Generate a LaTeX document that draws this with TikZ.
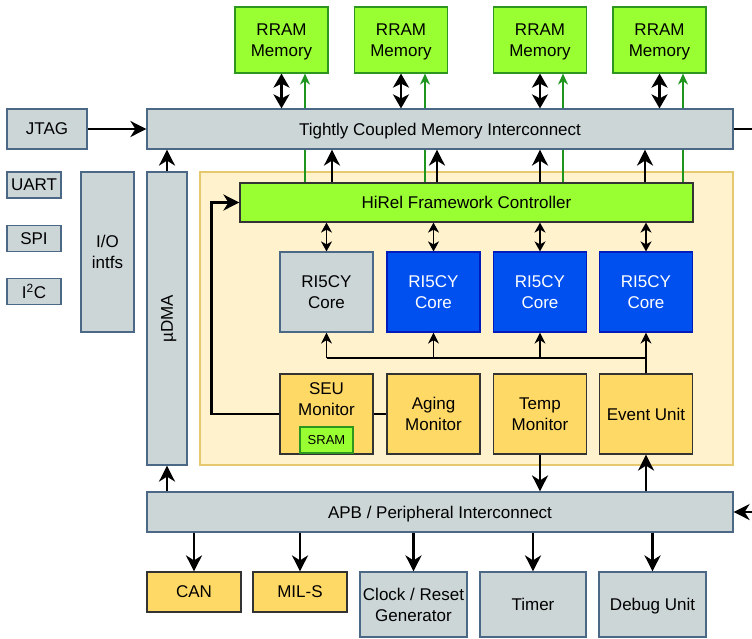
\documentclass[tikz,border=0pt]{standalone}
\usepackage{fontspec}
\setmainfont{Liberation Sans}
\usetikzlibrary{arrows.meta}
\pgfdeclarelayer{back}
\pgfdeclarelayer{mid}
\pgfsetlayers{back,mid,main}

\definecolor{grayfill}{RGB}{205,214,214}
\definecolor{graydraw}{RGB}{75,105,135}
\definecolor{greenfill}{RGB}{153,255,51}
\definecolor{greendraw}{RGB}{45,150,30}
\definecolor{greenarrow}{RGB}{30,150,30}
\definecolor{bluefill}{RGB}{0,80,239}
\definecolor{bluedraw}{RGB}{0,29,188}
\definecolor{orangefill}{RGB}{255,217,102}
\definecolor{darkdraw}{RGB}{51,51,51}
\definecolor{clusterfill}{RGB}{255,242,204}
\definecolor{clusterdraw}{RGB}{230,200,110}

\begin{document}
\begin{tikzpicture}[x=1pt, y=-1pt,
    base/.style={draw, line width=1.2pt, inner sep=2pt, align=center, text depth=0pt, font=\fontsize{17}{21}\selectfont},
    graybox/.style={base, fill=grayfill, draw=graydraw},
    greenbox/.style={base, fill=greenfill, draw=greendraw},
    corebox/.style={base, fill=bluefill, draw=bluedraw, text=white, minimum width=93pt, minimum height=80pt},
    monbox/.style={base, fill=orangefill, draw=darkdraw, minimum width=93pt, minimum height=80pt},
    wire/.style={line width=2.4pt},
    bus/.style={wire, -{Stealth[length=16pt,width=16pt,inset=5pt]}},
    dbus/.style={wire, {Stealth[length=14pt,width=16pt,inset=4pt]}-{Stealth[length=14pt,width=16pt,inset=4pt]}},
    link/.style={line width=1.5pt, -{Stealth[length=11pt,width=11pt,inset=3.5pt]}},
    dlink/.style={line width=1.5pt, {Stealth[length=10pt,width=11pt,inset=3pt]}-{Stealth[length=10pt,width=11pt,inset=3pt]}},
    ctrl/.style={draw=greenarrow, line width=1.1pt, -{Stealth[length=11pt,width=10pt,inset=3.5pt]}}]
    \useasboundingbox (0,0) rectangle (752,638);

    % Memories
    \node[greenbox, minimum width=93pt, minimum height=66pt] (ram1) at (281.5,40) {RRAM\\Memory};
    \node[greenbox, minimum width=93pt, minimum height=66pt] (ram2) at (401,40) {RRAM\\Memory};
    \node[greenbox, minimum width=93pt, minimum height=66pt] (ram3) at (540,40) {RRAM\\Memory};
    \node[greenbox, minimum width=93pt, minimum height=66pt] (ram4) at (659.5,40) {RRAM\\Memory};

    % Interconnects and left side
    \node[graybox, minimum width=586pt, minimum height=40pt] (tcm) at (440,129) {Tightly Coupled Memory Interconnect};
    \node[graybox, minimum width=80pt, minimum height=40pt] (jtag) at (47,129) {JTAG};
    \node[graybox, minimum width=54pt, minimum height=26pt] (uart) at (34,185) {UART};
    \node[graybox, minimum width=54pt, minimum height=26pt] (spi) at (34,238.5) {SPI};
    \node[graybox, minimum width=54pt, minimum height=26pt] (iic) at (34,291.5) {I\textsuperscript{2}C};
    \node[graybox, minimum width=53pt, minimum height=160pt] (io) at (107.5,252) {I/O\\intfs};
    \node[graybox, minimum width=40pt, minimum height=293pt] (udma) at (167,318.5) {};
    \node[font=\fontsize{17}{21}\selectfont, rotate=90, text depth=0pt] (udmatxt) at (udma) {µDMA};
    \node[graybox, minimum width=586pt, minimum height=40pt] (apb) at (440,512) {APB / Peripheral Interconnect};

    % Cluster
    \begin{pgfonlayer}{back}
        \node[draw=clusterdraw, fill=clusterfill, line width=1.2pt, minimum width=533pt, minimum height=293pt] (cluster) at (466.5,318.5) {};
    \end{pgfonlayer}
    \node[base, fill=greenfill, draw=darkdraw, minimum width=453pt, minimum height=39pt] (hirel) at (466.5,202.5) {HiRel Framework Controller};
    \node[corebox, fill=grayfill, draw=graydraw, text=black] (core1) at (326.5,292) {RI5CY\\Core};
    \node[corebox] (core2) at (433.5,292) {RI5CY\\Core};
    \node[corebox] (core3) at (540,292) {RI5CY\\Core};
    \node[corebox] (core4) at (646,292) {RI5CY\\Core};
    \node[monbox] (seu) at (326.5,414) {};
    \node[font=\fontsize{17}{21}\selectfont, align=center, text depth=0pt] (seutxt) at (326.5,399) {SEU\\Monitor};
    \node[base, fill=greenfill, draw=greendraw, minimum width=53pt, minimum height=26pt, font=\fontsize{13}{15}\selectfont] (sram) at (326.5,440) {SRAM};
    \node[monbox] (aging) at (433.5,414) {Aging\\Monitor};
    \node[monbox] (temp) at (540,414) {Temp\\Monitor};
    \node[monbox] (evu) at (646,414) {Event Unit};

    % Peripherals
    \node[base, fill=orangefill, draw=darkdraw, minimum width=94pt, minimum height=40pt] (can) at (194,592) {CAN};
    \node[base, fill=orangefill, draw=darkdraw, minimum width=94pt, minimum height=40pt] (mil) at (300,592) {MIL-S};
    \node[graybox, minimum width=107pt, minimum height=65pt] (clk) at (413.5,604.5) {Clock / Reset\\Generator};
    \node[graybox, minimum width=106pt, minimum height=65pt] (timer) at (533,604.5) {Timer};
    \node[graybox, minimum width=107pt, minimum height=65pt] (debug) at (652.5,604.5) {Debug Unit};

    % Helper coordinates
    \coordinate (g1) at (305,0);
    \coordinate (g2) at (425,0);
    \coordinate (g3) at (563,0);
    \coordinate (g4) at (683,0);
    \coordinate (h1) at (332,0);
    \coordinate (h2) at (437,0);
    \coordinate (h3) at (540,0);
    \coordinate (h4) at (645,0);
    \coordinate (bus) at (0,358);
    \coordinate (edgeT) at (752,129);
    \coordinate (edgeA) at (752,512);

    % Green control lines, behind the interconnect
    \begin{pgfonlayer}{mid}
        \draw[ctrl] (hirel.north -| g1) -- (ram1.south -| g1);
        \draw[ctrl] (hirel.north -| g2) -- (ram2.south -| g2);
        \draw[ctrl] (hirel.north -| g3) -- (ram3.south -| g3);
        \draw[ctrl] (hirel.north -| g4) -- (ram4.south -| g4);
    \end{pgfonlayer}

    % Edges
    \draw[dbus] (tcm.north -| ram1) -- (ram1.south);
    \draw[dbus] (tcm.north -| ram2) -- (ram2.south);
    \draw[dbus] (tcm.north -| ram3) -- (ram3.south);
    \draw[dbus] (tcm.north -| ram4) -- (ram4.south);
    \draw[bus] (hirel.north -| h1) -- (tcm.south -| h1);
    \draw[bus] (hirel.north -| h2) -- (tcm.south -| h2);
    \draw[bus] (hirel.north -| h3) -- (tcm.south -| h3);
    \draw[bus] (hirel.north -| h4) -- (tcm.south -| h4);
    \draw[bus] (jtag) -- (tcm);
    \draw[wire] (tcm.east) -- (edgeT);
    \draw[bus] (edgeA) -- (apb.east);
    \draw[bus] (udma.north) -- (tcm.south -| udma);
    \draw[bus] (apb.north -| udma) -- (udma.south);

    \draw[dlink] (hirel.south -| core1) -- (core1.north);
    \draw[dlink] (hirel.south -| core2) -- (core2.north);
    \draw[dlink] (hirel.south -| core3) -- (core3.north);
    \draw[dlink] (hirel.south -| core4) -- (core4.north);
    \draw[line width=1.5pt] (core1.south |- bus) -- (core4.south |- bus);
    \draw[line width=1.5pt] (evu.north) -- (evu.north |- bus);
    \draw[link] (core1.south |- bus) -- (core1.south);
    \draw[link] (core2.south |- bus) -- (core2.south);
    \draw[link] (core3.south |- bus) -- (core3.south);
    \draw[link] (core4.south |- bus) -- (core4.south);
    \draw[wire] (aging.west) -- (seu.east);
    \draw[bus] (seu.west) -- ++(-68,0) |- (hirel.west);
    \draw[bus] (temp.south) -- (apb.north -| temp);
    \draw[bus] (apb.north -| evu) -- (evu.south);

    \draw[bus] (apb.south -| can) -- (can.north);
    \draw[bus] (apb.south -| mil) -- (mil.north);
    \draw[bus] (apb.south -| clk) -- (clk.north);
    \draw[bus] (apb.south -| timer) -- (timer.north);
    \draw[bus] (apb.south -| debug) -- (debug.north);
\end{tikzpicture}
\end{document}
